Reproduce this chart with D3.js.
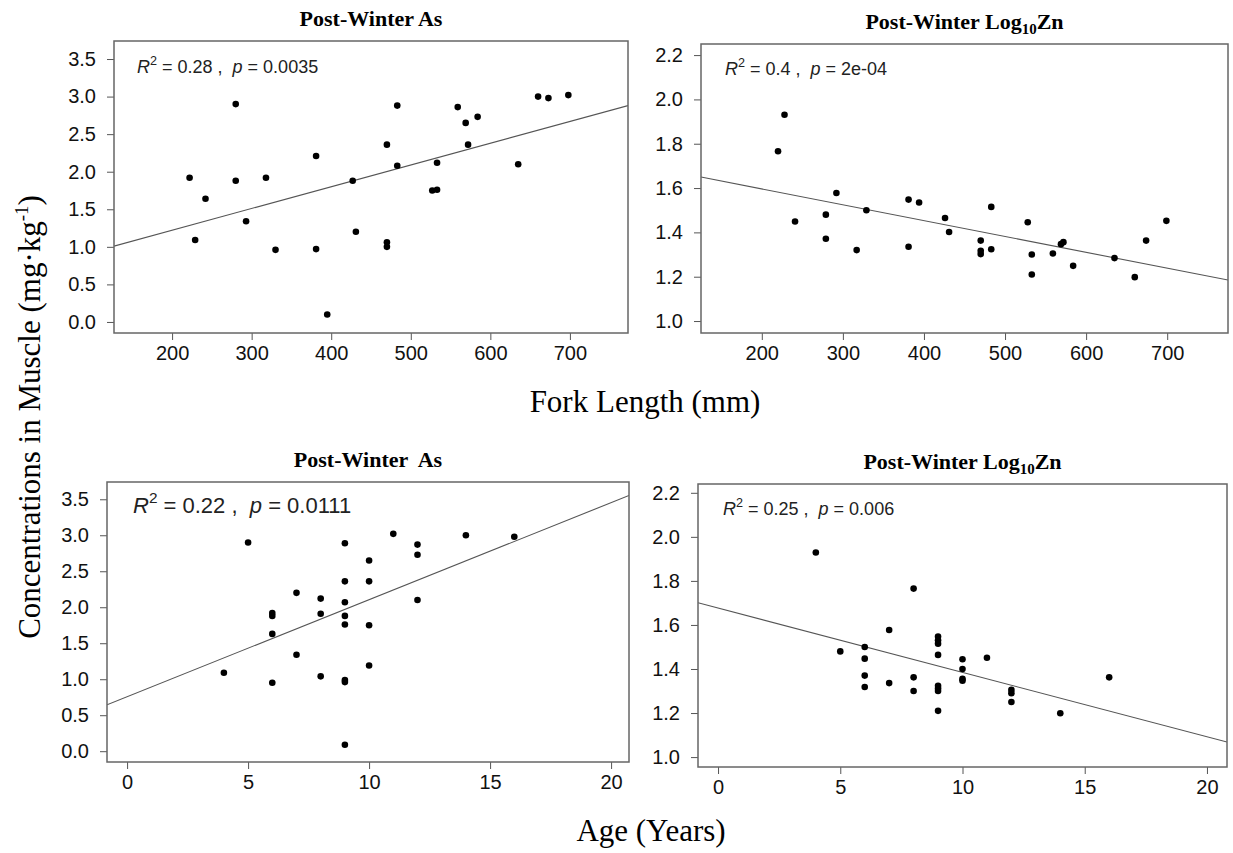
<!DOCTYPE html>
<html lang="en">
<head>
    <meta charset="UTF-8">
    <title>Post-Winter As and Log10Zn in muscle</title>
    <script src="https://d3js.org/d3.v7.min.js"></script>
    <style>
        body { margin: 0; background: #fff; }
        .title {
            font-family: "Liberation Serif", "Times New Roman", serif;
            font-weight: bold;
            font-size: 22px;
            text-anchor: middle;
            white-space: pre;
        }
        .axis-label {
            font-family: "Liberation Serif", "Times New Roman", serif;
            font-size: 31px;
            text-anchor: middle;
        }
        .tick text {
            font-family: "Liberation Sans", Arial, sans-serif;
            font-size: 20px;
            fill: #111;
        }
        .tick line { stroke: #555; }
        .stat {
            font-family: "Liberation Sans", Arial, sans-serif;
            fill: #222;
            white-space: pre;
        }
        .box { fill: none; stroke: #666; stroke-width: 1.5; }
        .fit { stroke: #555; stroke-width: 1.1; }
    </style>
</head>
<body>
    <svg width="1233" height="853"></svg>
    <script>
        // tick labels
        const asTicks = [0, 0.5, 1.0, 1.5, 2.0, 2.5, 3.0, 3.5];
        const znTicks = [1.0, 1.2, 1.4, 1.6, 1.8, 2.0, 2.2];
        const lengthTicks = [200, 300, 400, 500, 600, 700];
        const ageTicks = [0, 5, 10, 15, 20];

        // As vs fork length (mm)
        const asLength = [222, 229, 242, 280, 280, 293, 318, 330, 381, 381, 395, 427, 431, 470, 470, 470,
            483, 483, 527, 533, 533, 559, 569, 584, 572, 635, 660, 673, 698];
        const asByLength = [1.92, 1.09, 1.64, 2.90, 1.88, 1.34, 1.92, 0.96, 2.21, 0.97, 0.10, 1.88, 1.20, 2.36, 1.06, 1.00,
            2.88, 2.08, 1.75, 1.76, 2.12, 2.86, 2.65, 2.73, 2.36, 2.10, 3.00, 2.98, 3.02];

        // Log10Zn vs fork length (mm)
        const znLength = [220, 228, 241, 279, 279, 292, 317, 329, 381, 381, 394, 426, 431, 470, 470, 470,
            483, 483, 528, 533, 533, 559, 569, 572, 584, 635, 660, 674, 699];
        const znByLength = [1.766, 1.931, 1.449, 1.480, 1.371, 1.578, 1.320, 1.500, 1.548, 1.335, 1.535, 1.465, 1.402,
            1.363, 1.317, 1.302, 1.515, 1.324, 1.446, 1.300, 1.210, 1.305, 1.347, 1.356, 1.249, 1.284, 1.198, 1.363, 1.452];

        // As vs age (years)
        const asAge = [4, 5, 6, 6, 6, 6, 7, 7, 8, 8, 8, 9, 9, 9, 9, 9, 9, 9, 9, 10, 10, 10, 10, 11, 12, 12, 12, 14, 16];
        const asByAge = [1.09, 2.90, 1.92, 1.88, 1.63, 0.95, 2.20, 1.34, 2.12, 1.91, 1.04, 2.89, 2.36, 2.07, 1.88, 1.76,
            0.99, 0.96, 0.09, 2.65, 2.36, 1.75, 1.19, 3.02, 2.87, 2.73, 2.10, 3.00, 2.98];

        // Log10Zn vs age (years)
        const znAge = [4, 5, 6, 6, 6, 6, 7, 7, 8, 8, 8, 9, 9, 9, 9, 9, 9, 9, 9, 10, 10, 10, 10, 11, 12, 12, 12, 14, 16];
        const znByAge = [1.929, 1.480, 1.500, 1.447, 1.370, 1.318, 1.577, 1.336, 1.765, 1.362, 1.300, 1.547, 1.530, 1.515,
            1.464, 1.324, 1.312, 1.300, 1.210, 1.444, 1.400, 1.355, 1.347, 1.451, 1.305, 1.290, 1.250, 1.199, 1.362];

        // fitted lines [intercept, slope]
        const fitAsLength = [0.642, 0.002895];
        const fitZnLength = [1.739, -0.000715];
        const fitAsAge = [0.757, 0.1348];
        const fitZnAge = [1.677, -0.02923];

        const stats = [
            { r2: "0.28", p: "0.0035" },
            { r2: "0.4", p: "2e-04" },
            { r2: "0.22", p: "0.0111" },
            { r2: "0.25", p: "0.006" }
        ];

        const svg = d3.select("svg");

        const panels = [
            { title: "Post-Winter As", xs: asLength, ys: asByLength, fit: fitAsLength, stat: stats[0],
              xDomain: [127, 773], yDomain: [-0.147, 3.74], xTicks: lengthTicks, yTicks: asTicks,
              box: { left: 114, right: 628, top: 41, bottom: 333 }, statSize: 18, statPos: [137, 73] },
            { title: "Post-Winter Log", sub: "10", tail: "Zn", xs: znLength, ys: znByLength, fit: fitZnLength, stat: stats[1],
              xDomain: [125, 775], yDomain: [0.946, 2.25], xTicks: lengthTicks, yTicks: znTicks,
              box: { left: 701, right: 1228, top: 44, bottom: 333 }, statSize: 18, statPos: [725, 75] },
            { title: "Post-Winter  As", xs: asAge, ys: asByAge, fit: fitAsAge, stat: stats[2],
              xDomain: [-0.83, 20.74], yDomain: [-0.15, 3.74], xTicks: ageTicks, yTicks: asTicks,
              box: { left: 107, right: 629, top: 482, bottom: 762 }, statSize: 22, statPos: [133, 513] },
            { title: "Post-Winter Log", sub: "10", tail: "Zn", xs: znAge, ys: znByAge, fit: fitZnAge, stat: stats[3],
              xDomain: [-0.82, 20.82], yDomain: [0.955, 2.24], xTicks: ageTicks, yTicks: znTicks,
              box: { left: 698, right: 1227, top: 484, bottom: 767 }, statSize: 18, statPos: [723, 515] }
        ];

        panels.forEach(p => {
            const b = p.box;
            const x = d3.scaleLinear().domain(p.xDomain).range([b.left, b.right]);
            const y = d3.scaleLinear().domain(p.yDomain).range([b.bottom, b.top]);
            const g = svg.append("g");

            // title
            const t = g.append("text")
                .attr("class", "title")
                .attr("x", (b.left + b.right) / 2)
                .attr("y", b.top - 15);
            t.append("tspan").text(p.title);
            if (p.sub) {
                t.append("tspan").attr("dy", 5).style("font-size", "15px").text(p.sub);
                t.append("tspan").attr("dy", -5).text(p.tail);
            }

            // axes
            g.append("g")
                .attr("transform", `translate(${b.left - 7},0)`)
                .call(d3.axisLeft(y).tickValues(p.yTicks).tickFormat(d3.format(".1f")).tickSize(7).tickPadding(4))
                .call(a => a.select(".domain").remove())
                .call(a => a.selectAll(".tick line").attr("x2", 7).attr("x1", 0));
            g.append("g")
                .attr("transform", `translate(0,${b.bottom})`)
                .call(d3.axisBottom(x).tickValues(p.xTicks).tickFormat(d3.format("d")).tickSize(7).tickPadding(6))
                .call(a => a.select(".domain").remove());

            // fit line, clipped to the box
            const clipId = "clip" + b.left + b.top;
            g.append("clipPath").attr("id", clipId)
                .append("rect")
                .attr("x", b.left).attr("y", b.top)
                .attr("width", b.right - b.left).attr("height", b.bottom - b.top);
            g.append("line")
                .attr("class", "fit")
                .attr("clip-path", `url(#${clipId})`)
                .attr("x1", x(p.xDomain[0])).attr("y1", y(p.fit[0] + p.fit[1] * p.xDomain[0]))
                .attr("x2", x(p.xDomain[1])).attr("y2", y(p.fit[0] + p.fit[1] * p.xDomain[1]));

            // points
            g.selectAll("circle")
                .data(p.xs.map((v, i) => [v, p.ys[i]]))
                .enter()
                .append("circle")
                .attr("cx", d => x(d[0]))
                .attr("cy", d => y(d[1]))
                .attr("r", 3.3)
                .attr("fill", "#000");

            // box
            g.append("rect")
                .attr("class", "box")
                .attr("x", b.left).attr("y", b.top)
                .attr("width", b.right - b.left).attr("height", b.bottom - b.top);

            // R^2 and p annotation
            const s = g.append("text")
                .attr("class", "stat")
                .attr("x", p.statPos[0])
                .attr("y", p.statPos[1])
                .style("font-size", p.statSize + "px");
            s.append("tspan").style("font-style", "italic").text("R");
            s.append("tspan").attr("dy", -p.statSize * 0.45).style("font-size", (p.statSize * 0.7) + "px").text("2");
            s.append("tspan").attr("dy", p.statSize * 0.45).text(" = " + p.stat.r2 + " ,  ");
            s.append("tspan").style("font-style", "italic").text("p");
            s.append("tspan").text(" = " + p.stat.p);
        });

        // shared axis labels
        svg.append("text")
            .attr("class", "axis-label")
            .attr("x", 645).attr("y", 412)
            .text("Fork Length (mm)");
        svg.append("text")
            .attr("class", "axis-label")
            .attr("x", 651).attr("y", 841)
            .text("Age (Years)");
        const yl = svg.append("text")
            .attr("class", "axis-label")
            .attr("transform", "translate(40,417) rotate(-90)");
        yl.append("tspan").text("Concentrations in Muscle (mg·kg");
        yl.append("tspan").attr("dy", -12).style("font-size", "19px").text("-1");
        yl.append("tspan").attr("dy", 12).text(")");
    </script>
</body>
</html>
